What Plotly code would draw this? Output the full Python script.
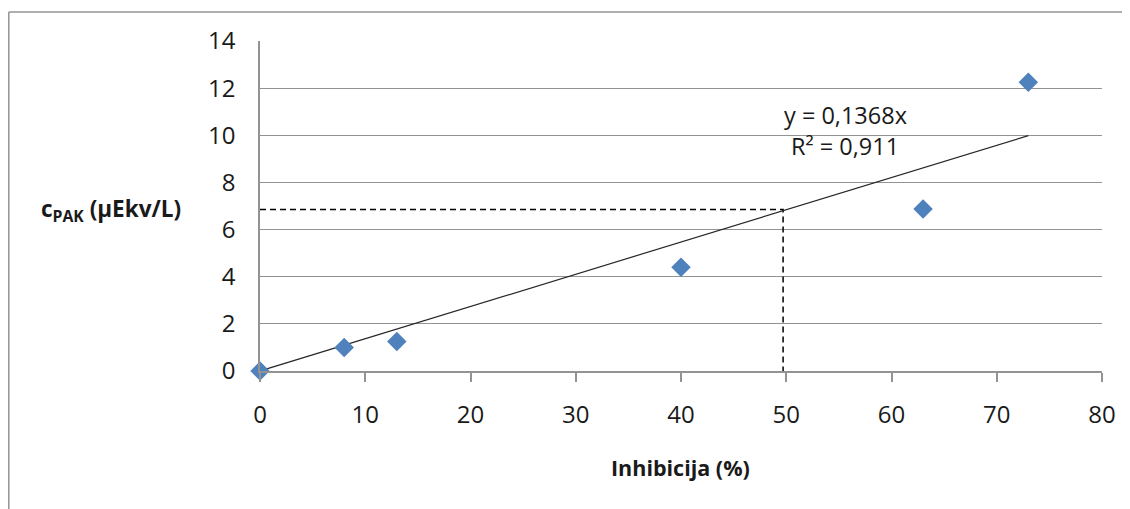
import plotly.graph_objects as go

inhibition = [0, 8, 13, 40, 63, 73]
c_pak = [0, 1.0, 1.25, 4.4, 6.87, 12.25]
slope = 0.1368
trend_x = [0, 73]
guide_x = [0, 49.7, 49.7]
guide_y = [6.85, 6.85, 0]
x_ticks = [0, 10, 20, 30, 40, 50, 60, 70, 80]
y_ticks = [0, 2, 4, 6, 8, 10, 12, 14]

FONT = "Open Sans"
GRID = "#939393"

# page body has an 8px default margin, compensate
OFF = 8
L, T, R, B = 260, 41, 1102, 371
PW, PH = R - L, B - T

fig = go.Figure()
fig.add_trace(go.Scatter(x=guide_x, y=guide_y, mode="lines",
                         line=dict(color="black", width=1.5, dash="6px,4px"),
                         hoverinfo="skip", showlegend=False))
fig.add_trace(go.Scatter(x=trend_x, y=[slope * v for v in trend_x], mode="lines",
                         line=dict(color="#262626", width=1.2), showlegend=False))
fig.add_trace(go.Scatter(x=inhibition, y=c_pak, mode="markers", cliponaxis=False,
                         marker=dict(symbol="diamond", size=15, color="#4F81BD",
                                     line=dict(width=0)),
                         showlegend=False))

def px(xp):
    return (xp - L) / PW

def py(yp):
    return (B - yp) / PH

fig.update_layout(
    width=1130 - OFF, height=509 - OFF,
    margin=dict(l=L - OFF, r=1130 - R, t=T - OFF, b=509 - B),
    paper_bgcolor="white", plot_bgcolor="white",
    font=dict(family=FONT, size=24, color="#1a1a1a"),
    xaxis=dict(range=[0, 80], tickvals=x_ticks, showgrid=False, zeroline=False,
               showline=True, linecolor=GRID, linewidth=1.5,
               ticks="outside", ticklen=9, tickcolor=GRID, tickwidth=1.5,
               ticklabelstandoff=12),
    yaxis=dict(range=[0, 14], tickvals=y_ticks, showgrid=True, gridcolor=GRID,
               gridwidth=1, zeroline=False, showline=True, linecolor=GRID,
               linewidth=1.5, ticks="", ticklabelstandoff=18),
    annotations=[
        dict(x=px(845), y=py(115), xref="paper", yref="paper", text="y = 0,1368x",
             showarrow=False, xanchor="center", yanchor="middle", font=dict(size=23.5)),
        dict(x=px(845), y=py(146), xref="paper", yref="paper", text="R² = 0,911",
             showarrow=False, xanchor="center", yanchor="middle", font=dict(size=23.5)),
        dict(x=px(680), y=py(467), xref="paper", yref="paper", text="<b>Inhibicija (%)</b>",
             showarrow=False, xanchor="center", yanchor="middle", font=dict(size=21.5)),
        dict(x=px(183), y=py(210), xref="paper", yref="paper",
             text="<b>c<sub>PAK</sub> (µEkv/L)</b>", showarrow=False,
             xanchor="right", yanchor="middle", font=dict(size=22.5)),
    ],
    shapes=[
        dict(type="line", xref="paper", yref="paper", x0=px(8.8), x1=px(1200),
             y0=py(12), y1=py(12), line=dict(color=GRID, width=1.5)),
        dict(type="line", xref="paper", yref="paper", x0=px(8.8), x1=px(8.8),
             y0=py(12), y1=py(600), line=dict(color=GRID, width=1.5)),
    ],
)

fig.write_html("out.html")
